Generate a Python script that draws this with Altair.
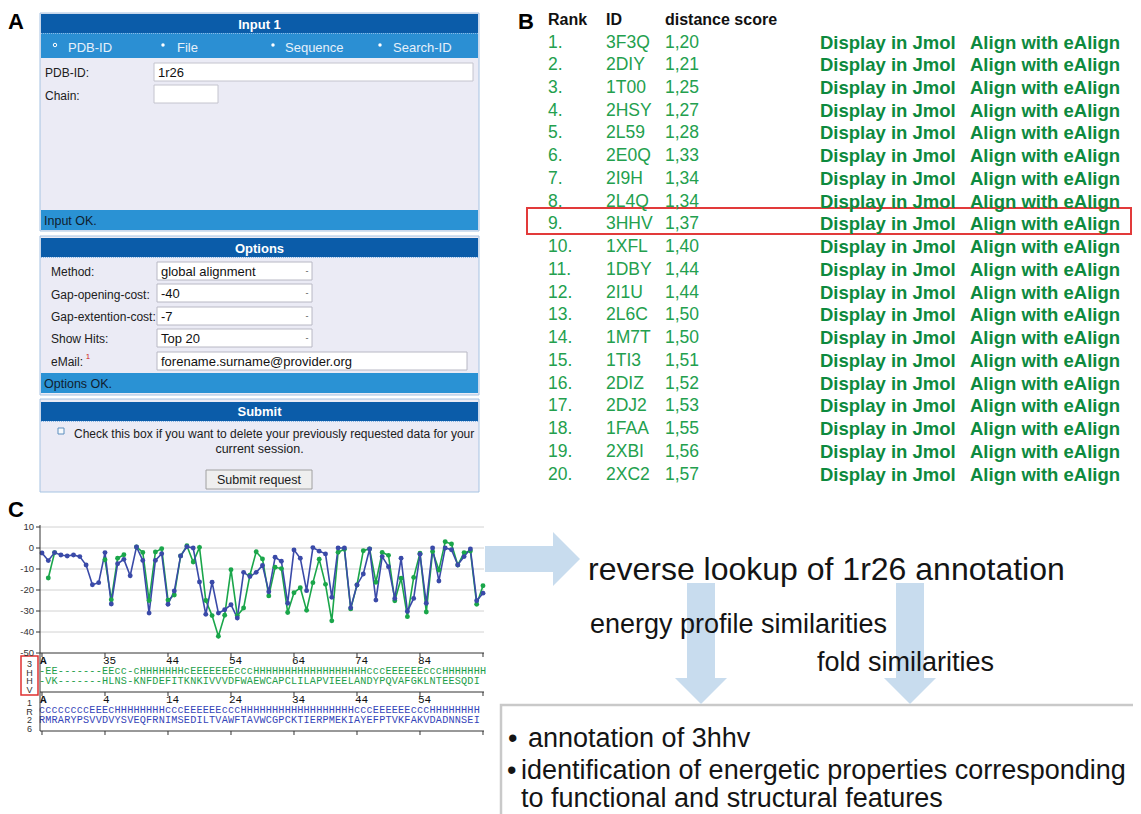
import altair as alt
import pandas as pd

# ================= content =================
panel_letters = ["A", "B", "C"]

input_title = "Input 1"
radio_labels = ["PDB-ID", "File", "Sequence", "Search-ID"]
input_labels = ["PDB-ID:", "Chain:"]
input_values = ["1r26", ""]
input_status = "Input OK."
options_title = "Options"
option_labels = ["Method:", "Gap-opening-cost:", "Gap-extention-cost:", "Show Hits:", "eMail:"]
option_values = ["global alignment", "-40", "-7", "Top 20", "forename.surname@provider.org"]
email_note = "1"
options_status = "Options OK."
submit_title = "Submit"
submit_note = ["Check this box if you want to delete your previously requested data for your",
               "current session."]
submit_button = "Submit request"

table_header = ["Rank", "ID", "distance score"]
ranks = list(range(1, 21))
hit_ids = ["3F3Q", "2DIY", "1T00", "2HSY", "2L59", "2E0Q", "2I9H", "2L4Q", "3HHV", "1XFL",
           "1DBY", "2I1U", "2L6C", "1M7T", "1TI3", "2DIZ", "2DJ2", "1FAA", "2XBI", "2XC2"]
distance_scores = [1.20, 1.21, 1.25, 1.27, 1.28, 1.33, 1.34, 1.34, 1.37, 1.40,
                   1.44, 1.44, 1.50, 1.50, 1.51, 1.52, 1.53, 1.55, 1.56, 1.57]
link_texts = ["Display in Jmol", "Align with eAlign"]
highlight_rank = 9

energy_ticks = [10, 0, -10, -20, -30, -40, -50]
energy_1r26 = [-2.4, -6.0, -2.2, -3.3, -3.8, -3.3, -4.1, -8.1, -17.5, -16.5,
               -2.2, -26.7, -7.5, -5.4, -13.2, 0.5, -5.9, -31.0, -5.9, -2.7,
               -26.8, -20.5, -3.8, 0.6, 0.0, -16.2, -31.6, -16.3, -31.0, -29.4,
               -27.0, -33.3, -11.6, -13.6, -11.6, -8.3, -20.8, -4.4, -6.3, -26.3,
               -0.9, -4.9, -20.3, 0.2, -1.5, -2.8, -23.5, 0.0, 0.0, -28.5,
               -17.6, -12.4, -0.5, -24.8, -4.1, -8.9, -24.0, -4.9, -30.2, -24.0,
               -3.0, -26.3, 0.0, -15.7, 0.0, -0.8, -8.1, -4.1, -0.5, -25.1,
               -21.5]
energy_3hhv = [None, -14.3, -2.2, None, None, None, None, None, None, None,
               -5.6, -24.6, -4.9, -3.2, None, 0.5, -2.1, -25.0, -1.9, -0.3,
               -24.8, -22.4, -3.8, 1.1, -6.7, 0.3, -25.0, -32.2, -42.0, -32.0,
               -10.3, -32.2, -28.6, -13.0, -1.8, -5.2, -22.8, -9.2, -9.8, -30.7,
               -21.3, -18.9, -29.7, -16.5, -5.3, -17.3, -34.7, -2.0, -0.6, -29.0,
               -17.6, -1.3, -0.4, -16.3, -2.1, -3.5, -25.1, -14.4, -32.7, -14.0,
               -2.5, -30.5, -1.7, -10.5, 3.0, 1.9, -8.1, -2.2, -1.4, -26.8,
               -18.0]
seq_3hhv_ss = "-EE-------EEcc-cHHHHHHHcEEEEEEEcccHHHHHHHHHHHHHHHHHHcccEEEEEEcccHHHHHHH"
seq_3hhv_aa = "-VK-------HLNS-KNFDEFITKNKIVVVDFWAEWCAPCLILAPVIEELANDYPQVAFGKLNTEESQDI"
seq_1r26_ss = "ccccccccEEEcHHHHHHHHcccEEEEEEcccHHHHHHHHHHHHHHHHHHcccEEEEEEcccHHHHHHHH"
seq_1r26_aa = "RMRARYPSVVDVYSVEQFRNIMSEDILTVAWFTAVWCGPCKTIERPMEKIAYEFPTVKFAKVDADNNSEI"
ruler_3hhv = ["A", "35", "44", "54", "64", "74", "84"]
ruler_1r26 = ["A", "4", "14", "24", "34", "44", "54"]
name_3hhv = "3HHV"
name_1r26 = "1R26"

flow_title = "reverse lookup of 1r26 annotation"
flow_steps = ["energy profile similarities", "fold similarities"]
result_lines = ["annotation of 3hhv",
                "identification of energetic properties corresponding",
                "to functional and structural features"]

# ================= styles =================
FONT = "Liberation Sans"
MONO = "Liberation Mono"
DARK_BLUE = "#0b5ca9"
MID_BLUE = "#2b8fd3"
BODY = "#ebebf5"
FRAME = "#a6c3e2"
GREEN_TXT = "#23a04e"
GREEN_BOLD = "#0d8a3e"
BLUE = "#3a4aa8"
GREEN = "#1aa64a"
SEQ_BLUE = "#3444b8"
SEQ_GREEN = "#1c9e48"
ARROW = "#c8dcee"

# ================= scales =================
# canvas: page-pixel coordinates (the chart starts at the 8px page margin)
CX = alt.Scale(domain=[8, 1133], range=[0, 1125], nice=False, zero=False)
CY = alt.Scale(domain=[8, 814], range=[0, 806], nice=False, zero=False)
# energy profile panel
CCOL = alt.Scale(domain=[0.683, 71.16], range=[32, 476], nice=False, zero=False)
CEN = alt.Scale(domain=[-50, 10], range=[645, 519], nice=False, zero=False)


def X(f="x"):
    return alt.X(f"{f}:Q", scale=CX, axis=None)


def Y(f="y"):
    return alt.Y(f"{f}:Q", scale=CY, axis=None)


def rects(rows):
    df = pd.DataFrame(rows, columns=["x", "x2", "y", "y2", "fill", "stroke", "sw"])
    return alt.Chart(df).mark_rect().encode(
        x=X(), x2="x2:Q", y=Y(), y2="y2:Q",
        fill=alt.Fill("fill:N", scale=None),
        stroke=alt.Stroke("stroke:N", scale=None),
        strokeWidth=alt.StrokeWidth("sw:Q", scale=None))


def texts(rows, **mark):
    df = pd.DataFrame(rows, columns=["x", "y", "t"])
    return alt.Chart(df).mark_text(**mark).encode(x=X(), y=Y(), text="t:N")


def hrules(rows, **mark):
    df = pd.DataFrame(rows, columns=["x", "x2", "y"])
    return alt.Chart(df).mark_rule(**mark).encode(x=X(), x2="x2:Q", y=Y())


def vrules(rows, **mark):
    df = pd.DataFrame(rows, columns=["x", "y", "y2"])
    return alt.Chart(df).mark_rule(**mark).encode(x=X(), y=Y(), y2="y2:Q")


# ================= panel A : web form =================
field_rows = [(157, 312, 262, 280), (157, 312, 284, 302), (157, 312, 307, 325),
              (157, 312, 329, 347), (157, 467, 352, 370)]
rect_rows = [
    (40, 479, 13, 231, BODY, FRAME, 1),
    (41, 478, 14, 33, DARK_BLUE, "transparent", 0),
    (41, 478, 33, 58, MID_BLUE, "transparent", 0),
    (154, 473, 63, 81, "#ffffff", "#c4c4ce", 1),
    (154, 218, 85, 103, "#ffffff", "#c4c4ce", 1),
    (41, 478, 210, 230, "#2a92d4", "transparent", 0),
    (40, 479, 236, 395, BODY, FRAME, 1),
    (41, 478, 238, 257, DARK_BLUE, "transparent", 0),
    (41, 478, 373, 393, "#2a92d4", "transparent", 0),
    (40, 479, 399, 492, BODY, FRAME, 1),
    (41, 478, 402, 421, DARK_BLUE, "transparent", 0),
    (58, 64, 428, 434, "#f6f9fc", "#5d8fbf", 1),
    (206, 312, 470, 489, "#efefef", "#a0a0a0", 1),
]
rect_rows += [(a, b, c, d, "#ffffff", "#b8b8c4", 1) for a, b, c, d in field_rows]

# ================= panel B highlight, panel D box / arrows =================
rect_rows += [
    (527, 1131, 208, 234, "transparent", "#e23a3a", 2),
    (501, 1160, 705, 840, "#ffffff", "#c9c9c9", 2.5),
    (485, 553, 546, 572, ARROW, "transparent", 0),
    (687, 715, 583, 678, ARROW, "transparent", 0),
    (896, 924, 583, 678, ARROW, "transparent", 0),
    (21, 38, 656, 695, "transparent", "#e03030", 1.5),
]
back = rects(rect_rows)

tri_down = pd.DataFrame({"id": [1, 1, 1, 2, 2, 2],
                         "x": [675, 701, 727, 884, 910, 936],
                         "y": [678] * 6,
                         "y2": [678, 704, 678, 678, 704, 678]})
tri_down_l = alt.Chart(tri_down).mark_area(orient="vertical", color=ARROW, opacity=1).encode(
    x=X(), y=Y(), y2="y2:Q", detail="id:N")
tri_right = pd.DataFrame({"y": [532, 559, 586], "x": [553, 553, 553], "x2": [553, 580, 553]})
tri_right_l = alt.Chart(tri_right).mark_area(orient="horizontal", color=ARROW, opacity=1).encode(
    y=Y(), x=X(), x2="x2:Q")

dotted = hrules([(41, 478, 33.5), (41, 478, 257.5), (41, 478, 421.5)],
                color="#8ab8e6", strokeDash=[1, 1], strokeWidth=1)

# radio bullets
radio_x = [55, 163, 273, 380]
radio_df = pd.DataFrame({"x": radio_x, "y": [45] * 4, "sel": [1, 0, 0, 0]})
radio_open = alt.Chart(radio_df[radio_df.sel == 1]).mark_point(
    filled=False, color="#ffffff", size=12, strokeWidth=1, opacity=1).encode(x=X(), y=Y())
radio_fill = alt.Chart(radio_df[radio_df.sel == 0]).mark_circle(
    color="#ffffff", size=12, opacity=1).encode(x=X(), y=Y())

box_titles = texts([(259.5, 24.5, input_title), (259.5, 248.5, options_title),
                    (259.5, 411.5, submit_title)],
                   font=FONT, fontSize=13, fontWeight="bold", color="#ffffff", align="center",
                   baseline="middle")
radio_txt = texts([(x, 48, t) for x, t in zip([68, 177, 285, 393], radio_labels)],
                  font=FONT, fontSize=13, color="#e6f0fa", align="left", baseline="middle")
form_labels = [(45, 72.5, input_labels[0]), (45, 95.5, input_labels[1])]
form_labels += [(51, y, t) for y, t in zip([271.5, 294.5, 317, 339, 362], option_labels)]
form_labels_l = texts(form_labels, font=FONT, fontSize=12, color="#202020", align="left",
                      baseline="middle")
form_vals = [(158, 72.5, input_values[0])]
form_vals += [(161, y, t) for y, t in zip([271.5, 294, 317, 339, 361.5], option_values)]
form_vals_l = texts(form_vals, font=FONT, fontSize=13, color="#111111", align="left",
                    baseline="middle")
drop_l = texts([(307, y, "-") for y in [271, 293, 316, 338]], font=FONT, fontSize=9,
               color="#555555", align="center", baseline="middle")
note_l = texts([(88, 357, email_note)], font=FONT, fontSize=8, color="#d02020", align="center",
               baseline="middle")
status_l = texts([(44, 220.5, input_status), (44, 383.5, options_status)], font=FONT, fontSize=12.5,
                 color="#10202e", align="left", baseline="middle")
submit_l1 = texts([(74, 433.5, submit_note[0])], font=FONT, fontSize=12, color="#202020",
                  align="left", baseline="middle")
submit_l2 = texts([(259.5, 448.5, submit_note[1]), (259, 480, submit_button)], font=FONT,
                  fontSize=12.5, color="#202020", align="center", baseline="middle")

# ================= panel B : hit table =================
row_y0, row_dy = 42.5, 22.74
hdr_l = texts([(548, 20, table_header[0]), (606, 20, table_header[1]), (665, 20, table_header[2])],
              font=FONT, fontSize=16, fontWeight="bold", color="#111111", align="left",
              baseline="middle")
tab_rows = []
link_rows = []
for r, hid, sc in zip(ranks, hit_ids, distance_scores):
    y = row_y0 + (r - 1) * row_dy
    tab_rows += [(548, y, f"{r}."), (606, y, hid), (665, y, f"{sc:.2f}".replace(".", ","))]
    link_rows += [(820, y, link_texts[0]), (970, y, link_texts[1])]
tab_l = texts(tab_rows, font=FONT, fontSize=17.5, color=GREEN_TXT, align="left", baseline="middle")
link_l = texts(link_rows, font=FONT, fontSize=18.5, fontWeight="bold", color=GREEN_BOLD,
               align="left", baseline="middle")

# ================= panel letters =================
letters_l = texts([(16, 21.5, panel_letters[0]), (526, 21.5, panel_letters[1]),
                   (16, 510, panel_letters[2])],
                  font=FONT, fontSize=22, fontWeight="bold", color="#000000", align="center",
                  baseline="middle")

# ================= panel C : axis frame on canvas =================
c_axis = vrules([(40, 525, 731)], color="#333333", strokeWidth=1)
vert_names = [(29.5, y, ch) for y, ch in zip([664, 672.5, 681, 689.5], name_3hhv)]
vert_names += [(29.5, y, ch) for y, ch in zip([703, 711.5, 720, 728.5], name_1r26)]
vert_l = texts(vert_names, font=FONT, fontSize=9, color="#333333", align="center", baseline="middle")

# ================= panel D : workflow text =================
d_big = texts([(588, 570, flow_title)], font=FONT, fontSize=32, color="#141414", align="left")
d_mid = texts([(590, 625, flow_steps[0]), (817, 663, flow_steps[1])], font=FONT, fontSize=27,
              color="#141414", align="left")
d_res = texts([(508, 739, "\u2022"), (507, 771, "\u2022"), (528, 739, result_lines[0]),
               (521, 771, result_lines[1]), (521, 799, result_lines[2])],
              font=FONT, fontSize=27, color="#141414", align="left")

canvas_back = alt.layer(back, tri_down_l, tri_right_l, dotted, radio_open, radio_fill)
canvas_front = alt.layer(box_titles, radio_txt, form_labels_l, form_vals_l, drop_l, note_l,
                         status_l, submit_l1, submit_l2, hdr_l, tab_l, link_l, letters_l,
                         c_axis, vert_l, d_big, d_mid, d_res)

# ================= panel C : energy profiles =================
cols = list(range(1, len(energy_1r26) + 1))
blue_df = pd.DataFrame({"col": cols, "e": energy_1r26})
g_rows, seg = [], 0
for c, v in zip(cols, energy_3hhv):
    if v is None:
        seg += 1
    else:
        g_rows.append({"col": c, "e": v, "seg": seg})
green_df = pd.DataFrame(g_rows)
tick_df = pd.DataFrame({"v": energy_ticks, "lab": [str(t) for t in energy_ticks]})

ex = alt.X("col:Q", scale=CCOL, axis=None)
ey = alt.Y("e:Q", scale=CEN, axis=None)
grid = alt.Chart(tick_df[tick_df.v > -50]).mark_rule(color="#d2d2d2", strokeWidth=1).encode(
    y=alt.Y("v:Q", scale=CEN, axis=None), x=alt.value(32), x2=alt.value(476))
yticks = alt.Chart(tick_df).mark_rule(color="#333333", strokeWidth=1).encode(
    y=alt.Y("v:Q", scale=CEN, axis=None), x=alt.value(28), x2=alt.value(32))
ylabs = alt.Chart(tick_df).mark_text(font=FONT, fontSize=9.5, color="#333333", align="right",
                                     baseline="middle").encode(
    y=alt.Y("v:Q", scale=CEN, axis=None), x=alt.value(26), text="lab:N")
g_line = alt.Chart(green_df).mark_line(color=GREEN, strokeWidth=1.6).encode(x=ex, y=ey, detail="seg:N")
b_line = alt.Chart(blue_df).mark_line(color=BLUE, strokeWidth=1.6).encode(x=ex, y=ey)
g_pts = alt.Chart(green_df).mark_circle(color=GREEN, size=24, opacity=1).encode(x=ex, y=ey)
b_pts = alt.Chart(blue_df).mark_circle(color=BLUE, size=24, opacity=1).encode(x=ex, y=ey)
c_chart = alt.layer(grid, yticks, ylabs, g_line, b_line, g_pts, b_pts)

# ================= panel C : alignment strip =================
char_rows = []
for s, yy, colr in [(seq_3hhv_ss, 671, SEQ_GREEN), (seq_3hhv_aa, 681, SEQ_GREEN),
                    (seq_1r26_ss, 710, SEQ_BLUE), (seq_1r26_aa, 719.5, SEQ_BLUE)]:
    for i, ch in enumerate(s):
        char_rows.append({"col": i + 1, "y": yy, "ch": ch, "c": colr})
char_df = pd.DataFrame(char_rows)
seq_chars = alt.Chart(char_df).mark_text(font=MONO, fontSize=10.2, align="center",
                                         baseline="middle").encode(
    x=alt.X("col:Q", scale=CCOL, axis=None), y=Y(), text="ch:N",
    color=alt.Color("c:N", scale=None))
rul_rows = []
for labels, yy in [(ruler_3hhv, 661), (ruler_1r26, 700)]:
    for k, lab in enumerate(labels):
        rul_rows.append({"col": 1 + 10 * k, "y": yy, "t": lab, "bold": lab == "A"})
rul_df = pd.DataFrame(rul_rows)
rul_norm = alt.Chart(rul_df[~rul_df.bold]).mark_text(font=MONO, fontSize=11, color="#111111",
                                                     align="left", baseline="middle", dx=-2).encode(
    x=alt.X("col:Q", scale=CCOL, axis=None), y=Y(), text="t:N")
rul_bold = alt.Chart(rul_df[rul_df.bold]).mark_text(font=MONO, fontSize=11, fontWeight="bold",
                                                    color="#111111", align="left", baseline="middle",
                                                    dx=-2).encode(
    x=alt.X("col:Q", scale=CCOL, axis=None), y=Y(), text="t:N")
line_y = [653, 692, 731]
strip_lines = alt.Chart(pd.DataFrame({"y": line_y})).mark_rule(color="#333333", strokeWidth=1).encode(
    y=Y(), x=alt.value(32), x2=alt.value(476))
tk_rows = [{"col": 1 + 10 * k, "y": ly, "y2": ly + 4} for ly in line_y for k in range(8)]
strip_ticks = alt.Chart(pd.DataFrame(tk_rows)).mark_rule(color="#333333", strokeWidth=1).encode(
    x=alt.X("col:Q", scale=CCOL, axis=None), y=Y(), y2="y2:Q")
c_seq = alt.layer(strip_lines, strip_ticks, rul_norm, rul_bold, seq_chars)

chart = alt.layer(canvas_back, c_chart, c_seq, canvas_front).resolve_scale(
    x="independent", y="independent"
).properties(
    width=1125, height=806, padding=0, autosize=alt.AutoSizeParams(type="none")
).configure_view(stroke="transparent")

chart.save("out.html", embed_options={"renderer": "svg", "actions": False})
